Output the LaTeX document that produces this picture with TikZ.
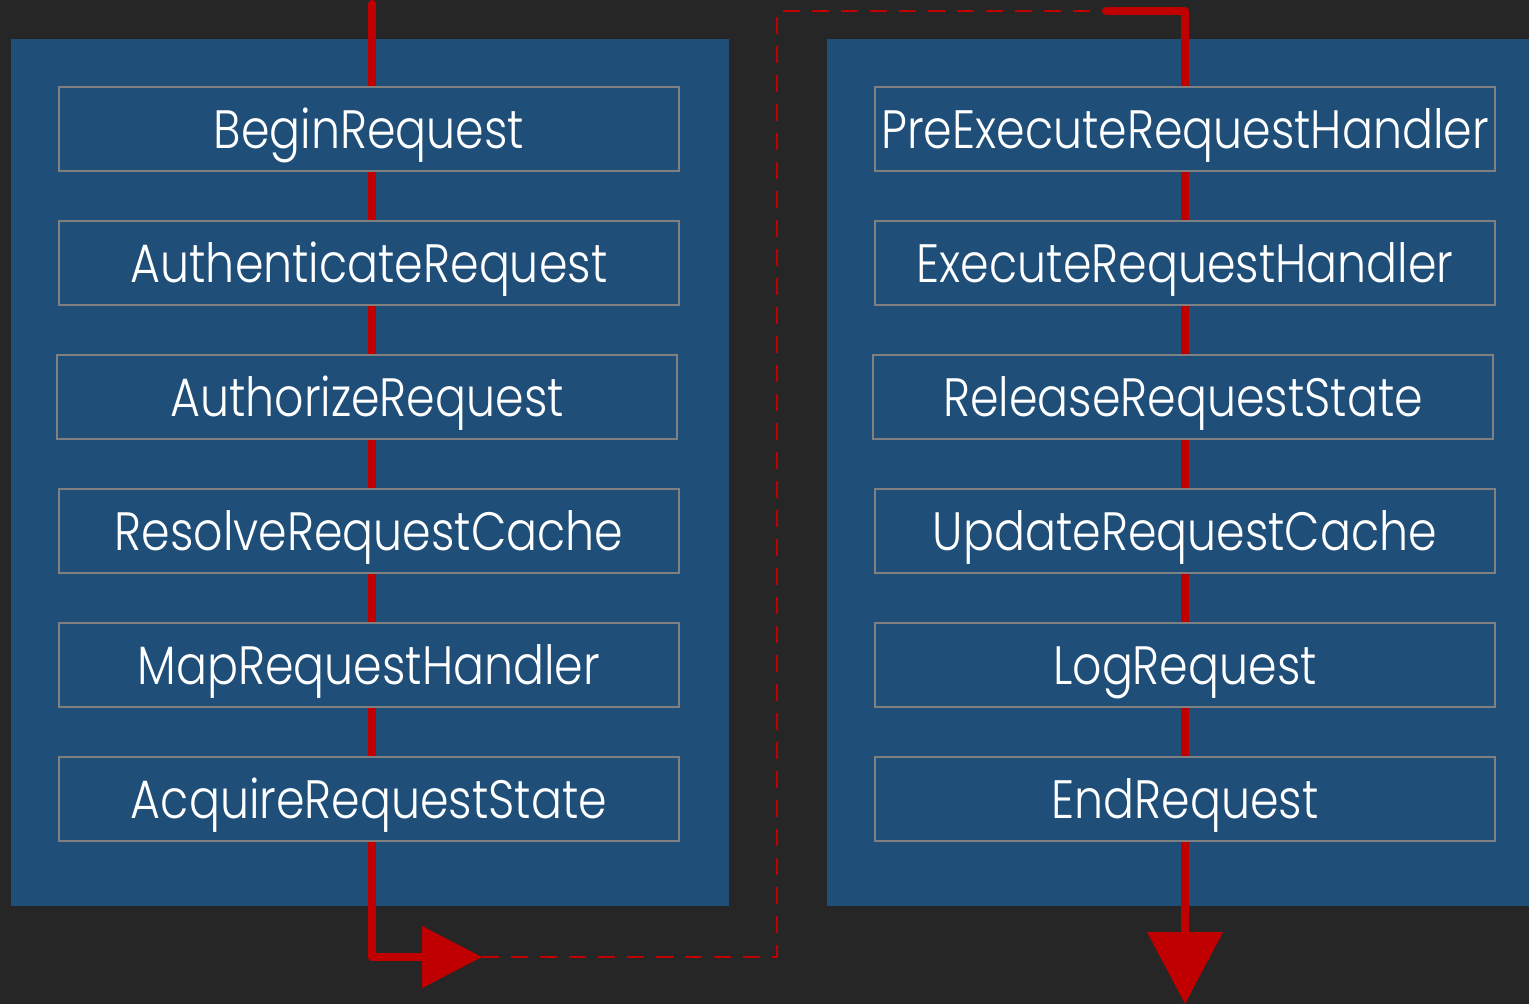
\documentclass[tikz,border=0pt]{standalone}
\usepackage{fontspec}
\setmainfont{Poppins Light}[FakeStretch=0.85]
\usetikzlibrary{arrows.meta}
\definecolor{bgc}{HTML}{262626}
\definecolor{panel}{HTML}{1F4E79}
\definecolor{edge}{HTML}{808080}
\definecolor{flow}{HTML}{C00000}
\pgfdeclarelayer{back}
\pgfdeclarelayer{mid}
\pgfsetlayers{back,mid,main}
\begin{document}
\begin{tikzpicture}[x=1pt,y=-1pt,
  stage/.style={draw=edge, line width=2.6pt, fill=panel, minimum width=620pt,
    minimum height=84pt, inner sep=0pt, text=white,
    font=\fontsize{54}{60}\selectfont, text height=38pt, text depth=0pt},
  flowline/.style={draw=flow, line width=8pt, line join=round},
  dashline/.style={draw=flow, line width=2.8pt, dash pattern=on 17pt off 12pt}]
\useasboundingbox (0,0) rectangle (1529,1004);
\begin{pgfonlayer}{back}
  \fill[bgc] (0,0) rectangle (1529,1004);
  \fill[panel] (11,39) rectangle (729,906);
  \fill[panel] (827,39) rectangle (1529,906);
\end{pgfonlayer}
% left column
\node[stage] (L1) at (369,129) {BeginRequest};
\node[stage] (L2) at (369,263) {AuthenticateRequest};
\node[stage] (L3) at (367,397) {AuthorizeRequest};
\node[stage] (L4) at (369,531) {ResolveRequestCache};
\node[stage] (L5) at (369,665) {MapRequestHandler};
\node[stage] (L6) at (369,799) {AcquireRequestState};
% right column
\node[stage] (R1) at (1185,129) {PreExecuteRequestHandler};
\node[stage] (R2) at (1185,263) {ExecuteRequestHandler};
\node[stage] (R3) at (1183,397) {ReleaseRequestState};
\node[stage] (R4) at (1185,531) {UpdateRequestCache};
\node[stage] (R5) at (1185,665) {LogRequest};
\node[stage] (R6) at (1185,799) {EndRequest};
% flow coordinates
\coordinate (start) at (372,4);
\coordinate (bendA) at (372,957);
\coordinate (tipA) at (482,957);
\coordinate (dashA) at (777,957);
\coordinate (dashB) at (777,11);
\coordinate (joinB) at (1106,11);
\coordinate (bendB) at (1185,11);
\coordinate (tipB) at (1185,1004);
\begin{pgfonlayer}{mid}
  \draw[flowline, line cap=round] (start) -- (bendA);
  \draw[flowline, -{Triangle[length=60pt,width=60pt]}] (bendA) -- (tipA);
  \fill[flow] (bendA) circle (4pt);
  \draw[dashline] (tipA) -- (dashA) -- (dashB) -- (joinB);
  \draw[flowline, line cap=round, -{Triangle[length=72pt,width=74pt]}] (joinB) -- (bendB) -- (tipB);
\end{pgfonlayer}
\end{tikzpicture}
\end{document}
